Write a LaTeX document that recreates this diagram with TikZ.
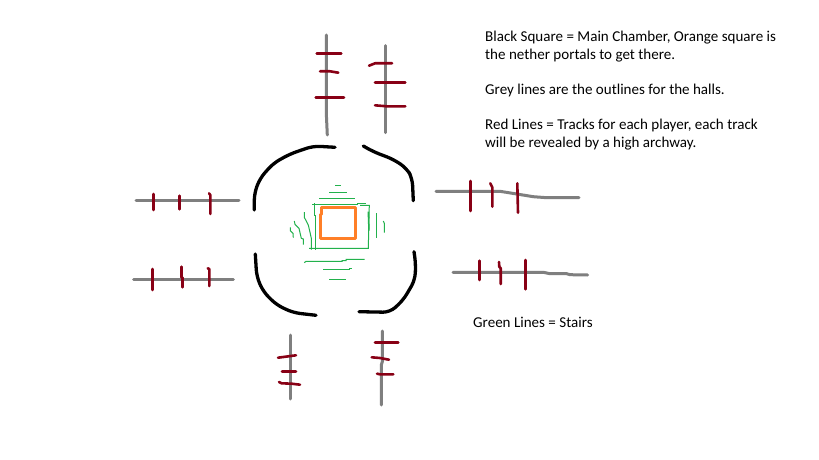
\documentclass[tikz,border=0pt]{standalone}
\usepackage{fontspec}
\setmainfont{Carlito}
\tikzset{
  wall/.style={draw=black,line width=3.3pt,line cap=round,line join=round,rounded corners=7pt},
  portal/.style={draw={rgb,255:red,255;green,127;blue,39},line width=3pt,line join=round},
  hall/.style={draw={rgb,255:red,127;green,127;blue,127},line width=3pt,line cap=round,line join=round},
  track/.style={draw={rgb,255:red,136;green,0;blue,21},line width=2.6pt,line cap=round,line join=round},
  stairs/.style={draw={rgb,255:red,34;green,177;blue,76},line width=1pt},
  note/.style={font=\fontsize{15.05}{18}\selectfont,inner sep=0pt,align=left,anchor=north west}
}
\begin{document}
\begin{tikzpicture}[x=1pt,y=-1pt]
\useasboundingbox[fill=white] (0,0) rectangle (819,460);
% chamber walls
\draw[wall] (254.3,210) -- (254.3,193.3) -- (260,178.3) -- (273.3,163.3) -- (290,154) -- (313.3,146) -- (335,147.3);
\draw[wall] (363.3,146) -- (373.3,151.7) -- (393.3,159.3) -- (406.7,168.3) -- (412.3,178.3) -- (413.3,200.7);
\draw[wall] (255.3,254) -- (256.7,276.7) -- (263.3,291.7) -- (276.7,305) -- (293.3,312.7) -- (316,315.3);
\draw[wall] (359,311.7) -- (390,312.3) -- (403.3,300) -- (415,280) -- (415.7,263.3) -- (414,251.7);
% stairs
\draw[stairs] (312.3,204.3) -- (357.3,204.3) -- (357.3,203.3) -- (366,203.3);
\draw[stairs] (360,205.3) -- (369.3,205.3) -- (368.3,248.3) -- (309,248.3);
\draw[stairs] (314.3,203.3) -- (314.3,215.7) -- (315.7,215.7) -- (315.7,249.7);
\draw[stairs,line width=1.5pt] (368.3,211.7) -- (369,230.7);
\draw[stairs] (376.7,213) -- (376.7,237.7);
\draw[stairs] (383.3,221) -- (384.3,223.3) -- (384.3,232.7);
\draw[stairs] (304.3,212) -- (304.3,217.3) -- (308.3,225) -- (310,232.3) -- (311.3,238.3) -- (311.3,249.7);
\draw[stairs] (294.3,221) -- (295,224.3) -- (299,228.3) -- (301.3,238.3) -- (303.3,239) -- (303.3,244.7);
\draw[stairs] (290.3,227.3) -- (290.3,230.7) -- (293,233.3) -- (293.3,237.7);
\draw[stairs] (335.3,185.3) -- (340.7,185.3);
\draw[stairs] (329,192.3) -- (346.7,192.3);
\draw[stairs] (319,198.3) -- (354.7,198.3);
\draw[stairs] (304.3,262.7) -- (306,261.3) -- (342,261.3) -- (342,260.7) -- (346,260.7) -- (346,259.3) -- (364.7,259.3);
\draw[stairs] (323,269.3) -- (349,269.3) -- (349,268.3) -- (352,268.3);
\draw[stairs] (329,279.3) -- (345.7,279.3);
% orange square
\draw[portal] (321.7,207.3) -- (355,207.3) -- (355,238.3) -- (320,238.3) -- (320,214.3) -- (321.7,214.3) -- cycle;
% halls
\draw[hall] (326.3,35) -- (326.3,113) -- (327.3,135);
\draw[hall] (385.3,45.7) -- (385.3,132.7);
\draw[hall] (436,191.3) -- (500,191.3) -- (516.7,194) -- (533.3,196.7) -- (546.7,197.7) -- (579,197.7);
\draw[hall] (453,272.3) -- (543.3,272.3) -- (550,273.7) -- (566.7,273.7) -- (570,274.7) -- (587.7,275);
\draw[hall] (136,200.3) -- (239,200.3);
\draw[hall] (133.7,279.3) -- (233.3,279.3);
\draw[hall] (290.3,335) -- (290.3,399);
\draw[hall] (382.3,331) -- (382.3,361.7) -- (381.3,365) -- (381.3,405);
% tracks
\draw[track] (316.7,53.3) -- (341.3,53.3);
\draw[track] (320,71.3) -- (330,71.3) -- (338.3,72.7);
\draw[track] (315.7,97.3) -- (344,97.3);
\draw[track] (369,65.7) -- (375,63.3) -- (392,63.3);
\draw[track] (375,82.3) -- (405.3,82.3);
\draw[track] (375,105.3) -- (386.7,106.3) -- (405.3,106.3);
\draw[track] (470.3,181) -- (470.3,211);
\draw[track] (490.3,183.3) -- (492.3,187.3) -- (492.3,206.7);
\draw[track] (517.3,183.3) -- (518,212.7);
\draw[track] (479.3,260.7) -- (479.3,280);
\draw[track] (499,262) -- (499.3,266.7) -- (500.7,268.3) -- (500.7,284);
\draw[track] (525.3,260) -- (525.3,289.3);
\draw[track] (153.3,194) -- (153.3,210);
\draw[track] (179.3,195.7) -- (179.3,209.3);
\draw[track] (209,193.3) -- (210.3,195) -- (210.3,214);
\draw[track] (152.3,269) -- (152.3,290);
\draw[track] (181.3,266.7) -- (181.3,277.3) -- (182.7,277.3) -- (182.7,287.3);
\draw[track] (207.7,268.3) -- (209.3,269) -- (209.3,286);
\draw[track] (278,357.7) -- (283.3,357) -- (296,355.3);
\draw[track] (282,371.3) -- (296,371.3);
\draw[track] (279,382) -- (281.7,383.3) -- (291.7,383.7) -- (300,384.7);
\draw[track] (375,342.3) -- (398.3,342.3);
\draw[track] (371.7,357.3) -- (380,358) -- (389,359.7);
\draw[track] (377,373.7) -- (380,374.3) -- (393.3,374.3);
% notes
\node[note] (n1) at (485,31) {Black Square = Main Chamber, Orange square is\\the nether portals to get there.};
\node[note] (n2) at (485,84) {Grey lines are the outlines for the halls.};
\node[note] (n3) at (485,119) {Red Lines = Tracks for each player, each track\\will be revealed by a high archway.};
\node[note] (n4) at (473,317) {Green Lines = Stairs};
\end{tikzpicture}
\end{document}
